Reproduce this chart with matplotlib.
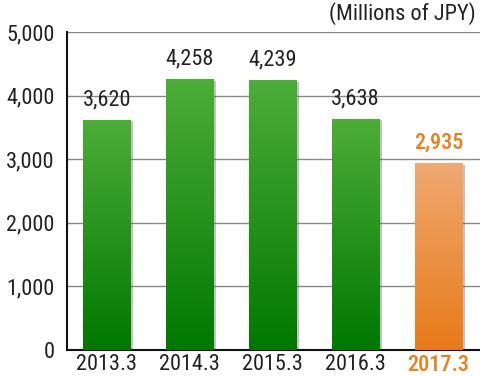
import numpy as np
import matplotlib.pyplot as plt
from matplotlib import font_manager

years = ['2013.3', '2014.3', '2015.3', '2016.3', '2017.3']
sales = [3620, 4258, 4239, 3638, 2935]
labels = ['3,620', '4,258', '4,239', '3,638', '2,935']

names = {f.name for f in font_manager.fontManager.ttflist}
fam = 'DejaVu Sans'
for cand in ['Liberation Sans Narrow', 'DejaVu Sans Condensed', 'Roboto Condensed',
             'Open Sans Condensed', 'Noto Sans Condensed']:
    if cand in names:
        fam = cand
        break
plt.rcParams['font.family'] = [fam, 'DejaVu Sans']
fs = 16 if fam != 'DejaVu Sans' else 13

green = [(0.30, 0.68, 0.22), (0.0, 0.47, 0.0)]
orange = [(0.94, 0.66, 0.44), (0.91, 0.48, 0.10)]

fig = plt.figure(figsize=(4.8, 3.76), dpi=100)
ax = fig.add_axes([67 / 480, 26 / 376, 413 / 480, 318 / 376])

x = np.arange(len(years))
width = 0.57
bars = ax.bar(x, sales, width=width, color='none', zorder=3)

for i, b in enumerate(bars):
    top, bot = orange if i == len(bars) - 1 else green
    t = np.linspace(0, 1, 256)
    grad = np.zeros((256, 1, 3))
    for c in range(3):
        grad[:, 0, c] = top[c] + (bot[c] - top[c]) * t
    # soft shadow on the right
    ax.bar(b.get_x() + 0.035, sales[i] - 25, width=width, align='edge',
           color='#555555', alpha=0.35, zorder=2)
    im = ax.imshow(grad, extent=[b.get_x(), b.get_x() + width, 0, sales[i]],
                   aspect='auto', zorder=3)
    im.set_clip_path(b)

for i, v in enumerate(sales):
    last = i == len(sales) - 1
    ax.text(x[i], v + 150, labels[i], ha='center', va='bottom', fontsize=fs,
            color='#e8801e' if last else '#222222',
            fontweight='medium' if last else 'normal')

ax.set_xlim(-0.48, 4.5)
ax.set_ylim(0, 5000)
ax.set_yticks(range(0, 5001, 1000))
ax.set_yticklabels(['0', '1,000', '2,000', '3,000', '4,000', '5,000'],
                   fontsize=fs, color='#222222')
ax.set_xticks(x)
ax.set_xticklabels(years, fontsize=fs, color='#222222')
tl = ax.get_xticklabels()[-1]
tl.set_color('#e8801e')
tl.set_fontweight('medium')
ax.tick_params(axis='y', length=0, pad=9)
ax.tick_params(axis='x', length=0, pad=3)
ax.yaxis.grid(True, color='#888888', linewidth=1)
ax.set_axisbelow(True)
for s in ['top', 'right']:
    ax.spines[s].set_visible(False)
for s in ['left', 'bottom']:
    ax.spines[s].set_linewidth(1.5)
    ax.spines[s].set_color('#111111')

fig.text(476 / 480, 1 - 14 / 376, '(Millions of JPY)', ha='right', va='center',
         fontsize=fs, color='#222222')

fig.savefig('out.png', dpi=100)
